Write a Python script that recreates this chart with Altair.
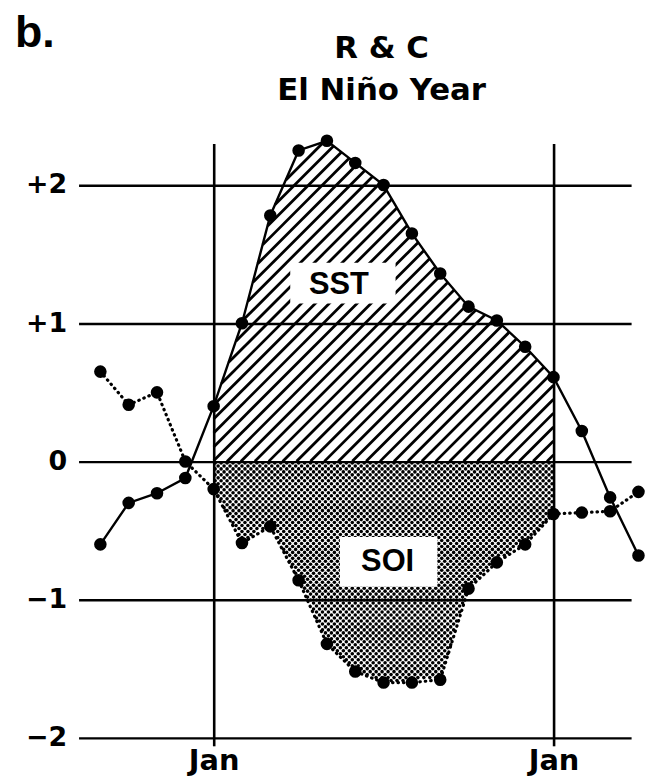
import altair as alt
import numpy as np
import pandas as pd

# ---------------- data ----------------
MONTHS = list(range(-4, 16))          # 0 = January of the El Niño year, 12 = next January
SST = [-0.60, -0.30, -0.23, -0.12, 0.40, 1.00, 1.78, 2.25, 2.32, 2.16,
       2.00, 1.65, 1.36, 1.12, 1.02, 0.83, 0.61, 0.22, -0.26, -0.68]
SOI = [0.65, 0.41, 0.50, 0.00, -0.20, -0.59, -0.47, -0.86, -1.32, -1.52,
       -1.60, -1.60, -1.58, -0.92, -0.73, -0.60, -0.38, -0.37, -0.36, -0.22]
Y_TICKS = [-2, -1, 0, 1, 2]
X_TICKS = [0, 12]
X_TICK_LABEL = "Jan"
TITLE_LINES = ["R & C", "El Niño Year"]
PANEL_LABEL = "b."
SST_LABEL = "SST"
SOI_LABEL = "SOI"
SHADE_START, SHADE_END = 0, 12

# ---------------- layout ----------------
X_DOMAIN = [-4.77, 14.74]
Y_DOMAIN = [-2.0, 2.3]
W, H = 556, 598
PPM = W / (X_DOMAIN[1] - X_DOMAIN[0])   # pixels per month
PPU = H / (Y_DOMAIN[1] - Y_DOMAIN[0])   # pixels per unit

df = pd.DataFrame({"month": MONTHS, "sst": SST, "soi": SOI})

# ---- hatching for SST area (45 degree lines, clipped to region) ----
k = PPM / PPU
step_c = 14.0 / PPM
xs = np.linspace(SHADE_START, SHADE_END, 2401)
s_int = np.interp(xs, MONTHS, SST)
segs = []
c = -max(SST) / k - step_c
while c < SHADE_END:
    yv = k * (xs - c)
    inside = (yv >= 0) & (yv <= s_int)
    idx = np.where(inside)[0]
    if len(idx):
        breaks = np.where(np.diff(idx) > 1)[0]
        starts = np.concatenate([[idx[0]], idx[breaks + 1]])
        ends = np.concatenate([idx[breaks], [idx[-1]]])
        for a, b in zip(starts, ends):
            if b > a:
                segs.append({"x1": xs[a], "y1": yv[a], "x2": xs[b], "y2": yv[b]})
    c += step_c
hatch_df = pd.DataFrame(segs)

# ---- stipple for SOI area (checkerboard dots, clipped to region) ----
pitch = 3.0
x0px = (SHADE_START - X_DOMAIN[0]) * PPM
x1px = (SHADE_END - X_DOMAIN[0]) * PPM
y0px = (Y_DOMAIN[1] - 0) * PPU
y1px = (Y_DOMAIN[1] - min(SOI)) * PPU
dots = []
for i, px in enumerate(np.arange(x0px + 1.5, x1px - 1.0, pitch)):
    for j, py in enumerate(np.arange(y0px + 1.5, y1px, pitch)):
        if (i + j) % 2:
            continue
        m = X_DOMAIN[0] + px / PPM
        v = Y_DOMAIN[1] - py / PPU
        if v >= np.interp(m, MONTHS, SOI) + 1.2 / PPU:
            dots.append({"m": m, "v": v})
dot_df = pd.DataFrame(dots)

# ---------------- scales / axes ----------------
xscale = alt.Scale(domain=X_DOMAIN, nice=False, zero=False)
yscale = alt.Scale(domain=Y_DOMAIN, nice=False, zero=False)
xaxis = alt.Axis(values=X_TICKS, labelExpr=f"'{X_TICK_LABEL}'", grid=True, gridColor="black",
                 gridWidth=2.6, gridOpacity=1, domain=False, ticks=True, tickSize=8, tickWidth=2.6,
                 tickColor="black", labelFont="DejaVu Sans", labelFontWeight="bold",
                 labelFontSize=29, labelColor="black", labelPadding=1, title=None, zindex=1,
                 labelFlush=False, labelOverlap=False)
yaxis = alt.Axis(values=Y_TICKS,
                 labelExpr="datum.value > 0 ? '+' + datum.value : (datum.value < 0 ? '\u2212' + abs(datum.value) : '0')",
                 grid=True, gridColor="black", gridWidth=2.4, gridOpacity=1, domain=False,
                 ticks=False, labelFont="DejaVu Sans", labelFontWeight="bold", labelFontSize=27,
                 labelColor="black", labelPadding=12, title=None, zindex=1, labelOverlap=False)


def X(f):
    return alt.X(f, type="quantitative", scale=xscale, axis=xaxis)


def Y(f):
    return alt.Y(f, type="quantitative", scale=yscale, axis=yaxis)


hatch = alt.Chart(hatch_df).mark_rule(color="black", strokeWidth=2.8).encode(
    x=X("x1"), y=Y("y1"), x2="x2", y2="y2")

stipple = alt.Chart(dot_df).mark_circle(color="black", size=13, opacity=1).encode(
    x=X("m"), y=Y("v"))

one = pd.DataFrame({"a": [0]})
sst_box = alt.Chart(one).mark_rect(color="white").encode(
    x=alt.value(213), x2=alt.value(319), y=alt.value(120), y2=alt.value(161))
soi_box = alt.Chart(one).mark_rect(color="white").encode(
    x=alt.value(263), x2=alt.value(361), y=alt.value(396), y2=alt.value(446))
sst_txt = alt.Chart(one).mark_text(text=SST_LABEL, font="Liberation Sans", fontWeight="bold",
                                   fontSize=31, color="black", align="center",
                                   baseline="alphabetic").encode(x=alt.value(262), y=alt.value(151))
soi_txt = alt.Chart(one).mark_text(text=SOI_LABEL, font="Liberation Sans", fontWeight="bold",
                                   fontSize=31, color="black", align="center",
                                   baseline="alphabetic").encode(x=alt.value(311), y=alt.value(430))

sst_line = alt.Chart(df).mark_line(color="black", strokeWidth=2.4).encode(x=X("month"), y=Y("sst"))
soi_line = alt.Chart(df).mark_line(color="black", strokeWidth=3.2, strokeDash=[0.5, 5.0],
                                   strokeCap="round").encode(x=X("month"), y=Y("soi"))
sst_pts = alt.Chart(df).mark_circle(color="black", size=160, opacity=1).encode(x=X("month"), y=Y("sst"))
soi_pts = alt.Chart(df).mark_circle(color="black", size=160, opacity=1).encode(x=X("month"), y=Y("soi"))

t1 = alt.Chart(one).mark_text(text=TITLE_LINES[0], font="DejaVu Sans", fontWeight="bold",
                              fontSize=31, color="black", align="center",
                              baseline="alphabetic").encode(x=alt.value(305), y=alt.value(-86))
t2 = alt.Chart(one).mark_text(text=TITLE_LINES[1], font="DejaVu Sans", fontWeight="bold",
                              fontSize=31, color="black", align="center",
                              baseline="alphabetic").encode(x=alt.value(305), y=alt.value(-44))
panel = alt.Chart(one).mark_text(text=PANEL_LABEL, font="Liberation Sans", fontWeight="bold",
                                 fontSize=45, color="black", align="left",
                                 baseline="alphabetic").encode(x=alt.value(-64), y=alt.value(-97))

chart = alt.layer(hatch, stipple, sst_box, soi_box, sst_txt, soi_txt, sst_line, soi_line,
                  sst_pts, soi_pts, t1, t2, panel).properties(
    width=W, height=H,
    autosize=alt.AutoSizeParams(type="none"),
    padding={"left": 71, "top": 134, "right": 16, "bottom": 44},
    background="white",
).configure_view(strokeWidth=0)

chart.save("out.html", embed_options={"renderer": "svg", "actions": False})
